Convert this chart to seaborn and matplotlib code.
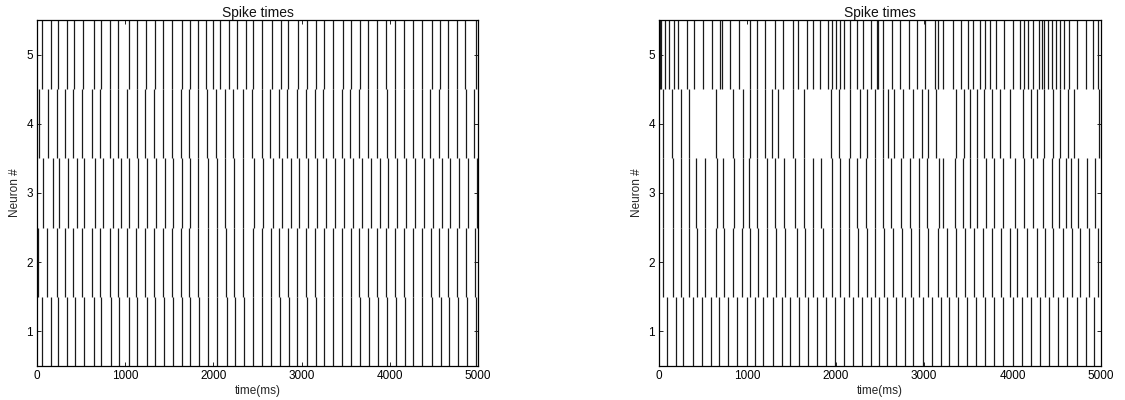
import matplotlib
matplotlib.use("Agg")
import matplotlib.pyplot as plt
import seaborn as sns

# Spike times (ms) for five neurons, first recording
left_n1 = [60, 155, 238, 336, 435, 533, 646, 729, 843, 934, 1039, 1138, 1244, 1342, 1440, 1538,
           1640, 1739, 1837, 1943, 2041, 2151, 2249, 2347, 2445, 2547, 2649, 2755, 2857, 2952,
           3058, 3160, 3254, 3360, 3462, 3557, 3662, 3764, 3870, 3965, 4067, 4173, 4267, 4369,
           4475, 4577, 4675, 4778, 4880, 4978]
left_n2 = [15, 117, 223, 317, 412, 514, 620, 714, 828, 922, 1024, 1123, 1225, 1330, 1433, 1527,
           1629, 1727, 1830, 1935, 2037, 2143, 2234, 2340, 2445, 2547, 2649, 2748, 2850, 2952,
           3050, 3152, 3254, 3352, 3455, 3557, 3655, 3757, 3859, 3957, 4059, 4161, 4260, 4362,
           4464, 4562, 4664, 4766, 4864, 4967]
left_n3 = [64, 178, 253, 355, 450, 533, 658, 745, 858, 949, 1043, 1149, 1244, 1349, 1451, 1546,
           1648, 1735, 1830, 1943, 2037, 2132, 2234, 2340, 2460, 2559, 2672, 2774, 2876, 2974,
           3077, 3171, 3277, 3379, 3481, 3587, 3681, 3783, 3889, 3984, 4078, 4184, 4286, 4388,
           4486, 4589, 4683, 4789, 4891, 4985]
left_n4 = [26, 128, 223, 317, 412, 506, 620, 714, 828, 922, 1024, 1130, 1225, 1330, 1425, 1527,
           1629, 1727, 1822, 1924, 2030, 2132, 2226, 2332, 2434, 2547, 2642, 2748, 2838, 2944,
           3050, 3152, 3247, 3352, 3455, 3549, 3655, 3757, 3859, 3965, 4059, 4161, 4267, 4362,
           4456, 4562, 4664, 4759, 4864, 4955]
left_n5 = [60, 155, 234, 336, 419, 518, 646, 722, 828, 922, 1047, 1138, 1236, 1338, 1433, 1527,
           1640, 1735, 1822, 1913, 1992, 2075, 2177, 2272, 2370, 2453, 2547, 2661, 2763, 2850,
           2963, 3058, 3163, 3254, 3360, 3466, 3557, 3662, 3757, 3859, 3957, 4059, 4161, 4267,
           4362, 4475, 4570, 4664, 4759, 4853, 4978]

# Spike times (ms) for five neurons, second recording
right_n1 = [87, 192, 275, 381, 483, 584, 682, 784, 886, 992, 1086, 1180, 1286, 1387, 1482, 1587,
            1689, 1783, 1889, 1990, 2092, 2190, 2292, 2400, 2492, 2582, 2680, 2782, 2876, 2982,
            3083, 3185, 3283, 3385, 3487, 3585, 3687, 3788, 3894, 4000, 4101, 4203, 4309, 4414,
            4516, 4618, 4723, 4829, 4919]
right_n2 = [49, 155, 245, 343, 426, 520, 645, 735, 841, 935, 1029, 1123, 1218, 1323, 1425, 1557,
            1651, 1745, 1859, 1953, 2047, 2153, 2254, 2349, 2443, 2544, 2642, 2744, 2846, 2944,
            3046, 3159, 3253, 3359, 3460, 3562, 3668, 3762, 3864, 3969, 4045, 4165, 4271, 4365,
            4460, 4565, 4667, 4761, 4867, 4968]
right_n3 = [49, 162, 245, 343, 418, 520, 652, 728, 848, 946, 1021, 1112, 1218, 1312, 1414, 1538,
            1644, 1738, 1829, 1953, 2047, 2153, 2236, 2341, 2440, 2537, 2620, 2733, 2838, 2944,
            3034, 3170, 3215, 3347, 3442, 3517, 3600, 3698, 3788, 3886, 4030, 4128, 4226, 4346,
            4441, 4524, 4603, 4663, 4738, 4837, 4931]
right_n4 = [41, 143, 245, 343, 645, 841, 946, 1029, 1105, 1199, 1274, 1350, 1519, 1640, 1941,
            2040, 2160, 2273, 2349, 2443, 2537, 2593, 2657, 2763, 2869, 2970, 3046, 3132, 3359,
            3449, 3517, 3592, 3675, 3762, 3856, 3969, 4120, 4203, 4271, 4354, 4452, 4535, 4629,
            4693, 4980]
right_n5 = [11, 26, 68, 113, 170, 219, 320, 400, 501, 596, 690, 709, 803, 909, 1029, 1105, 1199,
            1312, 1406, 1519, 1576, 1670, 1745, 1821, 1915, 1953, 1998, 2047, 2096, 2160, 2236,
            2311, 2395, 2462, 2482, 2529, 2631, 2725, 2831, 2914, 3008, 3121, 3159, 3208, 3321,
            3411, 3498, 3555, 3630, 3687, 3743, 3811, 3902, 4007, 4083, 4128, 4177, 4233, 4301,
            4328, 4354, 4403, 4441, 4490, 4535, 4580, 4640, 4723, 4829, 4904, 4968]

neuron_ids = [1, 2, 3, 4, 5]
x_ticks = [0, 1000, 2000, 3000, 4000, 5000]

sns.set_theme(style="ticks")
plt.rcParams["font.family"] = ["Liberation Sans", "DejaVu Sans"]
plt.rcParams.update({
    "xtick.direction": "in",
    "ytick.direction": "in",
    "xtick.top": True,
    "ytick.right": True,
    "axes.edgecolor": "black",
    "axes.linewidth": 0.9,
    "xtick.color": "black",
    "ytick.color": "black",
    "xtick.major.size": 3,
    "ytick.major.size": 3,
    "xtick.major.width": 0.6,
    "ytick.major.width": 0.6,
    "xtick.labelsize": 8.5,
    "ytick.labelsize": 8.5,
    "axes.labelsize": 8.5,
    "axes.titlesize": 10,
    "text.color": "#111111",
})

fig = plt.figure(figsize=(11.25, 4.0), dpi=100)
ax_left = fig.add_axes([37 / 1125, 34 / 400, 441 / 1125, 346 / 400])
ax_right = fig.add_axes([659 / 1125, 34 / 400, 442 / 1125, 346 / 400])

panels = [
    (ax_left, [left_n1, left_n2, left_n3, left_n4, left_n5]),
    (ax_right, [right_n1, right_n2, right_n3, right_n4, right_n5]),
]

for ax, trains in panels:
    ax.eventplot(trains, lineoffsets=neuron_ids, linelengths=1.0,
                 colors="#1a1a1a", linewidths=0.9)
    ax.set_xlim(0, 5000)
    ax.set_ylim(0.5, 5.5)
    ax.set_xticks(x_ticks)
    ax.set_yticks(neuron_ids)
    ax.set_title("Spike times", pad=2)
    ax.set_xlabel("time(ms)", labelpad=2)
    ax.set_ylabel("Neuron #", labelpad=4)
    ax.tick_params(which="both", top=True, right=True, pad=3)
    for side in ["top", "right", "bottom", "left"]:
        ax.spines[side].set_visible(True)
        ax.spines[side].set_color("black")

fig.savefig("out.png", dpi=100, facecolor="white")
